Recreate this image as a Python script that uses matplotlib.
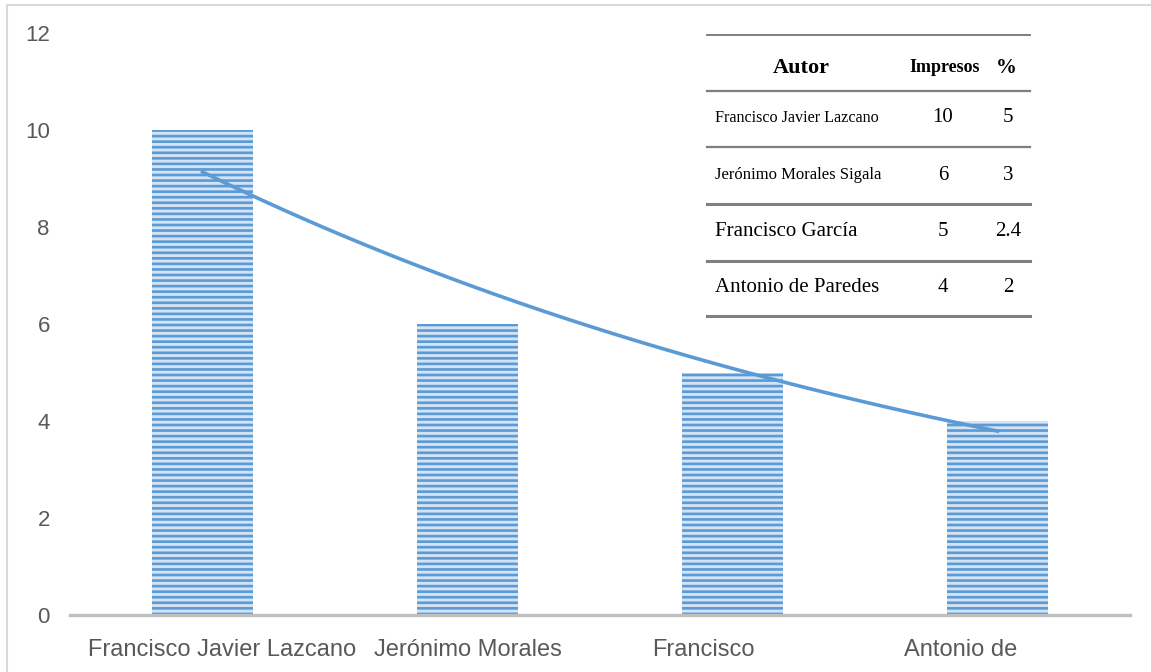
import numpy as np
import matplotlib
matplotlib.use("Agg")
from matplotlib import pyplot as plt
from matplotlib.lines import Line2D
import matplotlib.transforms as mtransforms

# data
autores = ["Francisco Javier Lazcano", "Jerónimo Morales", "Francisco", "Antonio de"]
impresos = np.array([10, 6, 5, 4])
yticks = [0, 2, 4, 6, 8, 10, 12]

# data of the small table drawn inside the chart
tabla_autores = ["Francisco Javier Lazcano", "Jerónimo Morales Sigala", "Francisco García", "Antonio de Paredes"]
tabla_impresos = ["10", "6", "5", "4"]
tabla_pct = ["5", "3", "2.4", "2"]

plt.rcParams["hatch.linewidth"] = 1.9

W, H = 1151, 672
fig = plt.figure(figsize=(W / 100, H / 100), dpi=100)
ax = fig.add_axes([70 / W, 1 - 615 / H, 1060 / W, 582 / H])

x = np.arange(len(impresos))
ax.bar(x, impresos, width=0.38, color="#d3e3f4", edgecolor="#5b9bd5",
       hatch="---", linewidth=0, zorder=2)

# exponential trend line (fit on log of values)
d, c = np.polyfit(x + 1, np.log(impresos), 1)
xs = np.linspace(0, len(impresos) - 1, 100)
ax.plot(xs, np.exp(c + d * (xs + 1)), color="#5b9bd5", lw=2.6, zorder=3)

ax.set_xlim(-0.5, len(impresos) - 0.5)
ax.set_ylim(0, 12)
ax.set_yticks(yticks)
ax.set_xticks(x)
ax.set_xticklabels(autores)
for s in ["top", "right", "left"]:
    ax.spines[s].set_visible(False)
ax.spines["bottom"].set_color("#bfbfbf")
ax.spines["bottom"].set_linewidth(2.4)
ax.tick_params(length=0, labelsize=16, labelcolor="#595959")
ax.tick_params(axis="y", pad=14.5)
ax.tick_params(axis="x", pad=17, labelsize=17)
for lab in ax.get_xticklabels() + ax.get_yticklabels():
    lab.set_fontfamily("Liberation Sans")

# shift the category labels like in the original
shifts = [20, 0, -29, -37]
for lab, s in zip(ax.get_xticklabels(), shifts):
    lab.set_transform(lab.get_transform() + mtransforms.Affine2D().translate(s, 0))

# table in pixel coordinates of the figure
def fx(px):
    return px / W

def fy(py):
    return 1 - py / H

serif = "Liberation Serif"
line_y = [35, 91, 147, 204, 261, 316]
line_w = [1.4, 1.6, 1.6, 2.2, 2.2, 2.2]
for yy, lw in zip(line_y, line_w):
    fig.add_artist(Line2D([fx(707), fx(1030)], [fy(yy), fy(yy)], color="#7f7f7f", lw=lw))

fig.text(fx(801), fy(68), "Autor", family=serif, weight="bold", size=16, ha="center", va="center")
fig.text(fx(945), fy(68), "Impresos", family=serif, weight="bold", size=13, ha="center", va="center")
fig.text(fx(1006), fy(68), "%", family=serif, weight="bold", size=15, ha="center", va="center")

row_y = [118, 175, 232, 288]
row_size = [11.6, 12, 15, 15]
for nombre, imp, pct, yy, sz in zip(tabla_autores, tabla_impresos, tabla_pct, row_y, row_size):
    fig.text(fx(715), fy(yy), nombre, family=serif, size=sz, ha="left", va="center")
    fig.text(fx(943), fy(yy), imp, family=serif, size=15, ha="center", va="center")
    fig.text(fx(1008), fy(yy), pct, family=serif, size=15, ha="center", va="center")

# light frame of the chart area
fig.add_artist(Line2D([fx(7), 1], [fy(5), fy(5)], color="#d9d9d9", lw=1.5))
fig.add_artist(Line2D([fx(7), fx(7)], [fy(5), 0], color="#d9d9d9", lw=1.5))

fig.savefig("out.png", dpi=100)
